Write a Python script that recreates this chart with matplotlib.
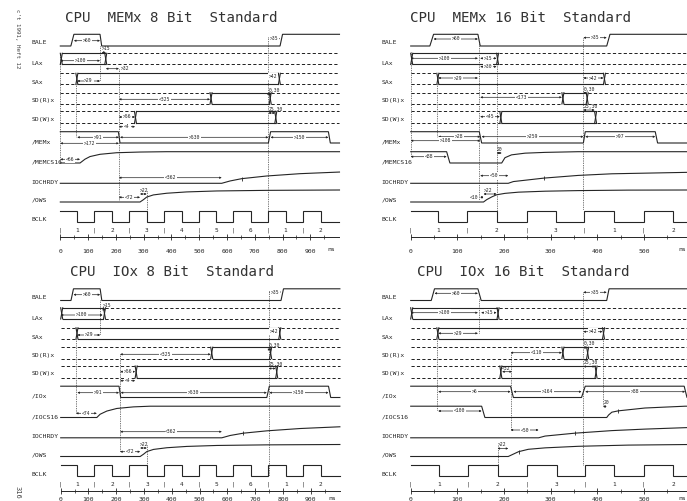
import numpy as np
import matplotlib
matplotlib.use('Agg')
import matplotlib.pyplot as plt
from matplotlib.transforms import blended_transform_factory

plt.rcParams['font.family'] = ['DejaVu Sans Mono', 'DejaVu Sans']

# ------------------------------------------------------------------ data
TITLES = ["CPU  MEMx 8 Bit  Standard", "CPU  MEMx 16 Bit  Standard",
          "CPU  IOx 8 Bit  Standard", "CPU  IOx 16 Bit  Standard"]
NAMES_MEM = ['BALE', 'LAx', 'SAx', 'SD(R)x', 'SD(W)x', '/MEMx', '/MEMCS16', 'IOCHRDY', '/OWS', 'BCLK']
NAMES_IO = ['BALE', 'LAx', 'SAx', 'SD(R)x', 'SD(W)x', '/IOx', '/IOCS16', 'IOCHRDY', '/OWS', 'BCLK']
TICKS_LONG = [0, 100, 200, 300, 400, 500, 600, 700, 800, 900]
TICKS_SHORT = [0, 100, 200, 300, 400, 500]
CLK_NUM_LONG = ['1', '2', '3', '4', '5', '6', '1', '2']
CLK_NUM_SHORT = ['1', '2', '3', '1', '2']

# --- CPU MEMx 8 Bit (times in ns, level 0 = low, 1 = high)
TL_BALE = [(0, 0), (38, 0), (49, 1), (143, 1), (149, 0), (791, 0), (800, 1), (1005, 1)]
TL_LA = (0, 160)
TL_SA = (56, 785)
TL_SDR = (539, 752)
TL_SDW = (267, 772)
TL_CMD = [(0, 1), (209, 1), (215, 0), (749, 0), (757, 1), (965, 1), (972, 0), (1005, 0)]
TL_CS16 = [(0, 0), (71, 0), (89, .34), (107, .57), (143, .77), (203, .91), (287, .97), (383, 1), (1005, 1)]
TL_RDY = [(0, 0), (581, 0), (611, .2), (653, .4), (743, .63), (863, .83), (1005, .97)]
TL_OWS = [(0, 0), (287, 0), (299, .19), (311, .41), (335, .59), (383, .73), (455, .84), (563, .92), (743, .97), (1005, 1)]
TL_BCLK = [61, 122, 186, 248, 311, 373, 437, 499, 562, 623, 685, 749, 811, 875, 937]
TL_MARKS = [('IOCHRDY', 653)]
TL_NOTES = [(49, 143, 40.7, '>60', 'c'), (749, 791, 38.7, '>35', 'c'), (0, 143, 60.7, '>100', 'c'),
            (149, 164, 52.5, '>15', 'a'), (164, 211, 68.7, '>32', 'r'), (61, 143, 81, '>29', 'c'),
            (749, 785, 76.7, '>42', 'c'), (211, 539, 99.3, '<325', 'c'), (749, 755, 94, '0,30', 'a'),
            (211, 269, 117, '>56', 'c'), (211, 269, 126.7, '<4', 'c'), (749, 773, 113, '25,30', 'a'),
            (61, 211, 137.3, '>91', 'c'), (0, 211, 143.3, '>172', 'c'), (215, 749, 137.3, '>530', 'c'),
            (757, 965, 137.3, '>150', 'c'), (0, 71, 159.3, '<66', 'c'), (211, 581, 177.7, '<362', 'c'),
            (211, 287, 197.3, '<72', 'c'), (287, 311, 194, '>22', 'a')]
TL_VLINES = [(0, 53.3, 163), (56, 84.5, 137.3), (143, 46, 81), (211, 68.7, 200),
             (749, 36.7, 221.7), (311, 191, 221.7)]

# --- CPU MEMx 16 Bit
TR_BALE = [(0, 0), (41, 0), (49, 1), (144, 1), (149, 0), (420, 0), (427, 1), (600, 1)]
TR_LA = (0, 184)
TR_SA = (56, 413)
TR_SDR = (324, 376)
TR_SDW = (191, 394)
TR_CMD = [(0, 1), (147, 1), (152, 0), (370, 0), (374, 1), (524, 1), (529, 0), (600, 0)]
TR_CS16 = [(0, 1), (77, 1), (84, 0), (195, 0), (202, .47), (216, .72), (245, .87), (288, .94), (359, 1), (600, 1)]
TR_RDY = [(0, 0), (209, 0), (220, .15), (286, .45), (359, .68), (431, .82), (600, .95)]
TR_OWS = [(0, 0), (156, 0), (163, .2), (174, .43), (184, .6), (202, .72), (231, .82), (288, .9),
          (359, .95), (466, .99), (600, 1)]
TR_BCLK = [59, 121, 184, 249, 311, 372, 436, 499, 563]
TR_MARKS = [('IOCHRDY', 286)]
TR_NOTES = [(49, 144, 39, '>60', 'c'), (370, 420, 37.7, '>35', 'c'), (0, 144, 58.3, '>100', 'c'),
            (149, 184, 58.3, '>15', 'c'), (149, 184, 66.7, '>30', 'c'), (59, 144, 78, '>29', 'c'),
            (370, 413, 78, '>42', 'c'), (149, 324, 97.3, '<173', 'c'), (370, 376, 93, '0,30', 'a'),
            (149, 191, 116.7, '<45', 'c'), (370, 394, 110, '25,30', 'a'), (59, 149, 136.7, '>28', 'c'),
            (0, 149, 140.7, '>108', 'c'), (152, 370, 136.7, '>259', 'c'), (374, 524, 136.7, '>97', 'c'),
            (0, 77, 156.7, '<88', 'c'), (184, 195, 153, '20', 'a'), (149, 209, 175.7, '<50', 'c'),
            (149, 156, 197.3, '<10', 'l'), (156, 184, 194, '>22', 'a')]
TR_VLINES = [(0, 51.7, 156.7), (57, 84, 136.7), (146, 44, 200), (184, 53, 220.7), (370, 37.7, 210)]

# --- CPU IOx 8 Bit
BL_BALE = [(0, 0), (37, 0), (46, 1), (142, 1), (148, 0), (793, 0), (802, 1), (1005, 1)]
BL_LA = (0, 154)
BL_SA = (55, 785)
BL_SDR = (540, 752)
BL_SDW = (268, 774)
BL_CMD = [(0, 1), (210, 1), (216, 0), (742, 0), (751, 1), (964, 1), (972, 0), (1005, 0)]
BL_CS16 = [(0, 0), (130, 0), (142, .29), (166, .57), (202, .8), (262, .94), (322, 1), (1005, 1)]
BL_RDY = [(0, 0), (580, 0), (610, .2), (658, .4), (742, .6), (862, .8), (1005, .95)]
BL_OWS = [(0, 0), (286, 0), (298, .19), (310, .41), (334, .59), (382, .73), (454, .84), (562, .92), (742, .97), (1005, 1)]
BL_BCLK = [60, 121, 186, 247, 312, 373, 437, 498, 560, 620, 685, 748, 810, 874, 936]
BL_MARKS = [('IOCHRDY', 658)]
BL_NOTES = [(46, 142, 40.2, '>60', 'c'), (749, 793, 37.5, '>35', 'c'), (0, 151, 60.5, '>100', 'c'),
            (151, 160, 55, '>15', 'a'), (60, 142, 80.5, '>29', 'c'), (749, 785, 77.2, '>42', 'c'),
            (214, 540, 99.8, '<325', 'c'), (749, 755, 95, '0,30', 'a'), (214, 268, 117.2, '>56', 'c'),
            (214, 268, 126.2, '<4', 'c'), (749, 774, 114, '25,30', 'a'), (60, 210, 138.2, '>91', 'c'),
            (216, 742, 138.2, '>530', 'c'), (751, 964, 138.2, '>150', 'c'), (55, 130, 158.8, '<74', 'c'),
            (214, 580, 177.2, '<362', 'c'), (214, 286, 197.2, '<72', 'c'), (286, 310, 193.5, '>22', 'a')]
BL_VLINES = [(55, 84.5, 158.8), (142, 45.5, 80.5), (214, 99.8, 197.2), (749, 37.5, 221.7), (310, 190.5, 221.7)]

# --- CPU IOx 16 Bit
BR_BALE = [(0, 0), (44, 0), (51, 1), (144, 1), (151, 0), (420, 0), (425, 1), (600, 1)]
BR_LA = (0, 185)
BR_SA = (56, 411)
BR_SDR = (324, 377)
BR_SDW = (191, 395)
BR_CMD = [(0, 1), (214, 1), (220, 0), (366, 0), (374, 1), (586, 1), (592, 0), (600, 0)]
BR_CS16 = [(0, 1), (152, 1), (159, 0), (420, 0), (424, .22), (431, .47), (445, .59), (502, .84), (588, 1), (600, 1)]
BR_RDY = [(0, 0), (274, 0), (288, .15), (352, .4), (431, .62), (502, .75), (600, .89)]
BR_OWS = [(0, 0), (209, 0), (220, .2), (231, .4), (252, .6), (288, .72), (359, .85), (466, .95), (600, 1)]
BR_BCLK = [61, 123, 186, 249, 313, 374, 436, 499, 563]
BR_MARKS = [('IOCHRDY', 352), ('OWS', 231), ('CS16', 445)]
BR_NOTES = [(51, 144, 38.8, '>60', 'c'), (370, 420, 37.8, '>35', 'c'), (0, 144, 58.2, '>100', 'c'),
            (151, 184, 58.2, '>15', 'c'), (59, 144, 78.8, '>29', 'c'), (370, 411, 77.2, '>42', 'c'),
            (214, 324, 98.2, '<110', 'c'), (370, 377, 93, '0,30', 'a'), (196, 217, 117.2, '<32', 'a'),
            (370, 395, 112, '25,30', 'a'), (59, 214, 137.2, '>6', 'c'), (220, 366, 137.2, '>164', 'c'),
            (374, 588, 137.2, '>88', 'c'), (59, 152, 156.5, '<100', 'c'), (413, 420, 152, '20', 'a'),
            (214, 274, 175.5, '<50', 'c'), (186, 209, 194, '>22', 'a')]
BR_VLINES = [(57, 84, 156.5), (146, 44, 78.8), (214, 98.2, 175.5), (370, 37.8, 210),
             (413, 84, 152), (186, 191.5, 221.7)]

# ------------------------------------------------------------------ layout
FIG_W, FIG_H = 687, 501
INK = '#252525'
LW = 0.8
ROWS = {'BALE': (34.3, 46), 'LAx': (53.3, 64.5), 'SAx': (73.3, 84.5), 'SDR': (92.7, 104),
        'SDW': (111.5, 123.5), 'CMD': (131.7, 143), 'CS16': (151.7, 163), 'IOCHRDY': (171.7, 183.3),
        'OWS': (190, 202), 'BCLK': (210.7, 221.7)}
LABEL_Y = [43, 63.5, 83, 100.5, 119, 142, 162.5, 182, 200.5, 219.5]
TITLE_Y = 18
CLK_TEXT_Y = 230
AXIS_Y = 236.7
PX = 0.72  # points per pixel

fig = plt.figure(figsize=(FIG_W / 100, FIG_H / 100), dpi=100)
fig.patch.set_facecolor('white')


def make_axes(x0, y0, w, h, px_zero, px_per100):
    ax = fig.add_axes([x0 / FIG_W, 1 - (y0 + h) / FIG_H, w / FIG_W, h / FIG_H])
    ax.set_xlim((x0 - px_zero) / px_per100 * 100, (x0 + w - px_zero) / px_per100 * 100)
    ax.set_ylim(h, 0)
    ax.set_facecolor('none')
    for s in ('top', 'left', 'right'):
        ax.spines[s].set_visible(False)
    ax.yaxis.set_visible(False)
    return ax


def yof(row, level):
    hi, lo = ROWS[row]
    return lo + (hi - lo) * level


def draw_wave(ax, row, pts):
    t = [p[0] for p in pts]
    y = [yof(row, p[1]) for p in pts]
    ax.plot(t, y, color=INK, lw=LW, solid_joinstyle='miter')
    return t, y


def draw_clock(ax, edges, t_end):
    lvl = 1
    pts = [(0, 1)]
    for e in edges:
        pts.append((e, lvl))
        lvl = 1 - lvl
        pts.append((e, lvl))
    pts.append((t_end, lvl))
    draw_wave(ax, 'BCLK', pts)


def draw_bus(ax, row, win, t_end, xw, lead=True):
    hi, lo = ROWS[row]
    a, b = win
    solid = dict(color=INK, lw=LW)
    dash = dict(color=INK, lw=LW * 0.9, ls=(0, (3.2, 2.2)))
    if lead:
        for yy in (hi, lo):
            ax.plot([0, a], [yy, yy], **dash)
    for t in (a, b):
        ax.plot([t, t + xw], [hi, lo], **solid)
        ax.plot([t, t + xw], [lo, hi], **solid)
    for yy in (hi, lo):
        ax.plot([a + xw, b], [yy, yy], **solid)
        ax.plot([b + xw, t_end], [yy, yy], **dash)


def draw_note(ax, t0, t1, y, text, mode):
    ax.annotate('', xy=(t1, y), xytext=(t0, y),
                arrowprops=dict(arrowstyle='<|-|>', color=INK, lw=0.5, mutation_scale=2.6,
                                shrinkA=0, shrinkB=0))
    kw = dict(fontsize=3.4, color=INK, textcoords='offset points', va='center')
    if mode == 'c':
        ax.annotate(text, xy=((t0 + t1) / 2, y), xytext=(0, 0), ha='center',
                    bbox=dict(fc='white', ec='none', pad=0.5), **kw)
    elif mode == 'a':
        ax.annotate(text, xy=(t0, y), xytext=(0, 3.6 * PX), ha='left', **kw)
    elif mode == 'r':
        ax.annotate(text, xy=(t1, y), xytext=(1.5 * PX, 0), ha='left', **kw)
    elif mode == 'l':
        ax.annotate(text, xy=(t0, y), xytext=(-1.5 * PX, 0), ha='right', **kw)


def draw_panel(x0, y0, w, h, px_zero, px_per100, title, title_fx, names, ticks, ns_x, ns_ha, t_end,
               lab_pad, lab_dy,
               bale, la, sa, sdr, sdw, cmd, cs16, rdy, ows, bclk, clk_nums, marks, notes, vlines):
    ax = make_axes(x0, y0, w, h, px_zero, px_per100)
    xw = 2.0 / px_per100 * 100  # bus crossing width (2 px)
    tr = blended_transform_factory(ax.transAxes, ax.transData)
    ax.text(title_fx, TITLE_Y, title, transform=tr, ha='center', va='center',
            fontsize=10.2, color='#333333')
    for name, ly in zip(names, LABEL_Y):
        ax.annotate(name, xy=(0, ly), xytext=(-29 * PX, 0), textcoords='offset points',
                    ha='left', va='center', fontsize=4.6, color=INK)
    for t, y0v, y1v in vlines:
        ax.plot([t, t], [y0v, y1v], color=INK, lw=0.55, ls=(0, (1, 1.3)))
    draw_wave(ax, 'BALE', bale)
    draw_bus(ax, 'LAx', la, t_end, xw, lead=False)
    draw_bus(ax, 'SAx', sa, t_end, xw)
    draw_bus(ax, 'SDR', sdr, t_end, xw)
    draw_bus(ax, 'SDW', sdw, t_end, xw)
    draw_wave(ax, 'CMD', cmd)
    curves = {'CS16': draw_wave(ax, 'CS16', cs16),
              'IOCHRDY': draw_wave(ax, 'IOCHRDY', rdy),
              'OWS': draw_wave(ax, 'OWS', ows)}
    for row, t in marks:
        tt, yy = curves[row]
        ax.plot([t], [np.interp(t, tt, yy)], marker='|', ms=3.2, mew=0.6, color=INK)
    draw_clock(ax, bclk, t_end)
    pos = [0] + list(bclk)
    for i, t in enumerate(pos):
        if i // 2 >= len(clk_nums):
            break
        txt = '|' if i % 2 == 0 else clk_nums[i // 2]
        ax.text(t, CLK_TEXT_Y, txt, ha='center', va='center', fontsize=4.4 if i % 2 else 3.6, color=INK)
    for n in notes:
        draw_note(ax, *n)
    # time axis
    ax.spines['bottom'].set_position(('data', AXIS_Y))
    ax.spines['bottom'].set_bounds(0, t_end)
    ax.spines['bottom'].set_linewidth(0.7)
    ax.spines['bottom'].set_color(INK)
    ax.set_xticks(ticks)
    ax.set_xticklabels([str(t) for t in ticks])
    ax.set_xticks([t + 50 for t in ticks], minor=True)
    ax.tick_params(axis='x', which='major', direction='inout', length=4, width=0.6,
                   labelsize=4.6, pad=lab_pad, colors=INK)
    ax.tick_params(axis='x', which='minor', direction='inout', length=2.2, width=0.5, colors=INK)
    ax.text(ns_x, AXIS_Y + lab_dy, 'ns', ha=ns_ha, va='center', fontsize=4.6, color=INK)
    return ax


draw_panel(0, 0, 343, 253, 60.3, 27.78, TITLES[0], 0.4985, NAMES_MEM, TICKS_LONG, 962, 'left', 1005,
           6.5, 13.3,
           TL_BALE, TL_LA, TL_SA, TL_SDR, TL_SDW, TL_CMD, TL_CS16, TL_RDY, TL_OWS, TL_BCLK,
           CLK_NUM_LONG, TL_MARKS, TL_NOTES, TL_VLINES)
draw_panel(343, 0, 344, 253, 410.7, 46.67, TITLES[1], 0.517, NAMES_MEM, TICKS_SHORT, 590, 'right', 600,
           6.5, 13.3,
           TR_BALE, TR_LA, TR_SA, TR_SDR, TR_SDW, TR_CMD, TR_CS16, TR_RDY, TR_OWS, TR_BCLK,
           CLK_NUM_SHORT, TR_MARKS, TR_NOTES, TR_VLINES)
draw_panel(0, 254.5, 343, 246.5, 60.7, 27.78, TITLES[2], 0.501, NAMES_IO, TICKS_LONG, 962, 'left', 1005,
           2.3, 7.6,
           BL_BALE, BL_LA, BL_SA, BL_SDR, BL_SDW, BL_CMD, BL_CS16, BL_RDY, BL_OWS, BL_BCLK,
           CLK_NUM_LONG, BL_MARKS, BL_NOTES, BL_VLINES)
draw_panel(343, 254.5, 344, 246.5, 410.7, 46.67, TITLES[3], 0.523, NAMES_IO, TICKS_SHORT, 590, 'right', 600,
           2.3, 7.6,
           BR_BALE, BR_LA, BR_SA, BR_SDR, BR_SDW, BR_CMD, BR_CS16, BR_RDY, BR_OWS, BR_BCLK,
           CLK_NUM_SHORT, BR_MARKS, BR_NOTES, BR_VLINES)

fig.text(17 / FIG_W, 1 - 39 / FIG_H, "c't 1991, Heft 12", rotation=270, ha='center', va='center',
         fontsize=4.2, color='#444444')
fig.text(18 / FIG_W, 1 - 492 / FIG_H, "316", rotation=270, ha='center', va='center',
         fontsize=5, color='#444444')

fig.savefig('out.png', dpi=100, facecolor='white')
